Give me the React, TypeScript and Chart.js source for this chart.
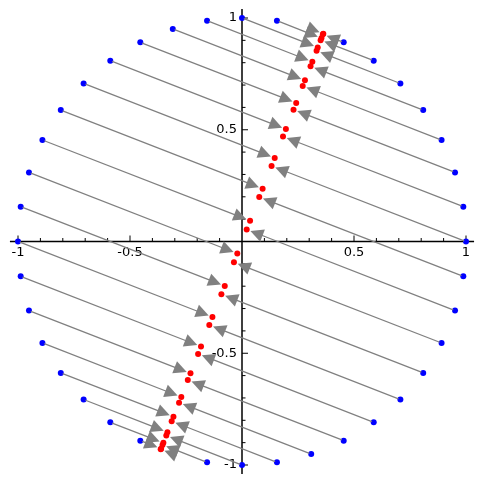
import React, { useEffect, useRef } from "react";
import { Chart, registerables } from "chart.js";

Chart.register(...registerables);

// Points on the unit circle (blue)
const blueX = [1, 0.988, 0.951, 0.891, 0.809, 0.707, 0.588, 0.454, 0.309, 0.156, 0, -0.156, -0.309, -0.454, -0.588, -0.707, -0.809, -0.891, -0.951, -0.988, -1, -0.988, -0.951, -0.891, -0.809, -0.707, -0.588, -0.454, -0.309, -0.156, 0, 0.156, 0.309, 0.454, 0.588, 0.707, 0.809, 0.891, 0.951, 0.988];
const blueY = [0, 0.156, 0.309, 0.454, 0.588, 0.707, 0.809, 0.891, 0.951, 0.988, 1, 0.988, 0.951, 0.891, 0.809, 0.707, 0.588, 0.454, 0.309, 0.156, 0, -0.156, -0.309, -0.454, -0.588, -0.707, -0.809, -0.891, -0.951, -0.988, -1, -0.988, -0.951, -0.891, -0.809, -0.707, -0.588, -0.454, -0.309, -0.156];

// Their images on the line (red)
const redX = [0.132, 0.183, 0.230, 0.271, 0.306, 0.333, 0.351, 0.361, 0.363, 0.355, 0.338, 0.314, 0.281, 0.242, 0.196, 0.146, 0.092, 0.036, -0.021, -0.077, -0.132, -0.183, -0.230, -0.271, -0.306, -0.333, -0.351, -0.361, -0.363, -0.355, -0.338, -0.314, -0.281, -0.242, -0.196, -0.146, -0.092, -0.036, 0.021, 0.077];
const redY = [0.338, 0.470, 0.590, 0.696, 0.784, 0.853, 0.901, 0.927, 0.930, 0.910, 0.868, 0.804, 0.721, 0.620, 0.503, 0.374, 0.236, 0.093, -0.054, -0.199, -0.338, -0.470, -0.590, -0.696, -0.784, -0.853, -0.901, -0.927, -0.930, -0.910, -0.868, -0.804, -0.721, -0.620, -0.503, -0.374, -0.236, -0.093, 0.054, 0.199];

const xTickValues = [-1, -0.5, 0.5, 1];
const xTickLabels = ["-1", "-0.5", "0.5", "1"];
const yTickValues = [-1, -0.5, 0.5, 1];
const yTickLabels = ["-1", "-0.5", "0.5", "1"];

const FONT = "13px 'DejaVu Sans'";

const sagePlugin = {
  id: "sageAxes",
  beforeDatasetsDraw(chart: any) {
    const ctx = chart.ctx;
    const xs = chart.scales.x;
    const ys = chart.scales.y;
    const x0 = xs.getPixelForValue(0);
    const y0 = ys.getPixelForValue(0);
    ctx.save();
    ctx.strokeStyle = "#000";
    ctx.lineWidth = 1.5;
    ctx.beginPath();
    ctx.moveTo(xs.getPixelForValue(-1.036), y0);
    ctx.lineTo(xs.getPixelForValue(1.036), y0);
    ctx.moveTo(x0, ys.getPixelForValue(1.04));
    ctx.lineTo(x0, ys.getPixelForValue(-1.04));
    ctx.stroke();
    ctx.lineWidth = 1;
    ctx.beginPath();
    for (let i = -10; i <= 10; i++) {
      if (i === 0) continue;
      const v = i / 10;
      const len = i % 5 === 0 ? 6 : 3.5;
      const px = xs.getPixelForValue(v);
      ctx.moveTo(px, y0);
      ctx.lineTo(px, y0 - len);
      const py = ys.getPixelForValue(v);
      ctx.moveTo(x0, py);
      ctx.lineTo(x0 + len, py);
    }
    ctx.stroke();
    ctx.fillStyle = "#000";
    ctx.font = FONT;
    ctx.textAlign = "center";
    ctx.textBaseline = "middle";
    xTickValues.forEach((v, i) => {
      ctx.fillText(xTickLabels[i], xs.getPixelForValue(v), y0 + 11);
    });
    ctx.textAlign = "right";
    yTickValues.forEach((v, i) => {
      ctx.fillText(yTickLabels[i], x0 - 5, ys.getPixelForValue(v));
    });
    ctx.restore();
  },
  beforeDatasetDraw(chart: any, args: any) {
    if (args.index !== 0) return;
    const ctx = chart.ctx;
    const xs = chart.scales.x;
    const ys = chart.scales.y;
    const headLen = 13;
    const headHalf = 6.5;
    const shrinkTail = 2;
    const shrinkTip = 4;
    ctx.save();
    ctx.strokeStyle = "#808080";
    ctx.fillStyle = "#808080";
    ctx.lineWidth = 1.3;
    for (let k = 0; k < blueX.length; k++) {
      const ax = xs.getPixelForValue(blueX[k]);
      const ay = ys.getPixelForValue(blueY[k]);
      const bx = xs.getPixelForValue(redX[k]);
      const by = ys.getPixelForValue(redY[k]);
      const dx = bx - ax;
      const dy = by - ay;
      const L = Math.hypot(dx, dy);
      if (L < 1e-6) continue;
      const ux = dx / L;
      const uy = dy / L;
      const tx = ax + ux * shrinkTail;
      const ty = ay + uy * shrinkTail;
      const hx = bx - ux * shrinkTip;
      const hy = by - uy * shrinkTip;
      const baseX = hx - ux * headLen;
      const baseY = hy - uy * headLen;
      const shaftLen = L - shrinkTail - shrinkTip - headLen;
      if (shaftLen > 0) {
        ctx.beginPath();
        ctx.moveTo(tx, ty);
        ctx.lineTo(baseX + ux * 1, baseY + uy * 1);
        ctx.stroke();
      }
      ctx.beginPath();
      ctx.moveTo(hx, hy);
      ctx.lineTo(baseX - uy * headHalf, baseY + ux * headHalf);
      ctx.lineTo(baseX + uy * headHalf, baseY - ux * headHalf);
      ctx.closePath();
      ctx.fill();
    }
    ctx.restore();
  },
};

export default function App() {
  const ref = useRef<HTMLCanvasElement | null>(null);
  useEffect(() => {
    document.body.style.margin = "0";
    const canvas = ref.current;
    if (!canvas) return;
    const chart = new Chart(canvas, {
      type: "scatter",
      data: {
        datasets: [
          {
            label: "image",
            data: redX.map((x, i) => ({ x, y: redY[i] })),
            pointRadius: 3,
            pointBackgroundColor: "#ff0000",
            pointBorderWidth: 0,
            borderWidth: 0,
            order: 0,
            clip: false as any,
          },
          {
            label: "circle",
            data: blueX.map((x, i) => ({ x, y: blueY[i] })),
            pointRadius: 3,
            pointBackgroundColor: "#0000ff",
            pointBorderWidth: 0,
            borderWidth: 0,
            order: 1,
            clip: false as any,
          },
        ],
      },
      options: {
        responsive: false,
        devicePixelRatio: 1,
        animation: false,
        layout: { padding: { left: 18, right: 18, top: 18, bottom: 19 } },
        scales: {
          x: { type: "linear", min: -1, max: 1, display: false },
          y: { type: "linear", min: -1, max: 1, display: false },
        },
        plugins: { legend: { display: false }, tooltip: { enabled: false } },
      },
      plugins: [sagePlugin],
    });
    return () => chart.destroy();
  }, []);
  return (
    <div style={{ position: "fixed", left: 0, top: 0, width: 484, height: 484, background: "#fff" }}>
      <canvas ref={ref} width={484} height={484} style={{ display: "block" }} />
    </div>
  );
}
